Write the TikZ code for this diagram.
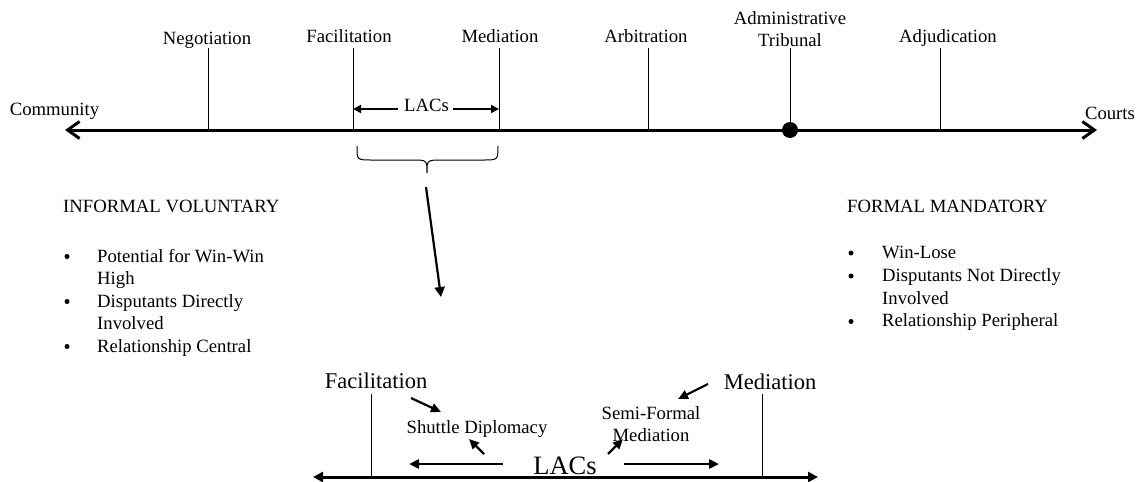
\documentclass[tikz,border=0pt]{standalone}
\usepackage{fontspec}
\setmainfont{Liberation Serif}
\usetikzlibrary{arrows.meta}
\begin{document}
\begin{tikzpicture}[x=1pt,y=-1pt,
  lbl/.style={inner sep=0pt, anchor=base, font=\fontsize{18.7}{22.5}\selectfont},
  lblw/.style={lbl, anchor=base west},
  big/.style={inner sep=0pt, anchor=base, font=\fontsize{22.5}{27}\selectfont},
  huge/.style={inner sep=0pt, anchor=base, font=\fontsize{26.5}{30}\selectfont},
  axisline/.style={line width=3pt},
  tickline/.style={line width=1pt},
  ptr/.style={line width=2.2pt, -{Triangle[length=10pt,width=9pt]}},
  lacptr/.style={line width=1.8pt, -{Triangle[length=8pt,width=8pt]}},
  bul/.style={circle, fill, inner sep=0pt, minimum size=5pt}
]
\useasboundingbox (0,0) rectangle (1144,482);

% ---------- main continuum ----------
\coordinate (cl) at (65,130);
\coordinate (cr) at (1097,130);
\draw[axisline, {Straight Barb[length=12pt,width=17pt]}-{Straight Barb[length=12pt,width=17pt]}] (cl) -- (cr);
\node[lbl] (comm) at (54.5,115) {Community};
\node[lbl] (courts) at (1110,119) {Courts};

% ticks and their labels
\coordinate (tneg) at (208,48);
\coordinate (tfac) at (353,48);
\coordinate (tmed) at (499,48);
\coordinate (tarb) at (648,48);
\coordinate (ttri) at (790,48);
\coordinate (tadj) at (940,48);
\foreach \t in {tneg,tfac,tmed,tarb,ttri,tadj}
  \draw[tickline] (\t) -- (\t |- cl);
\node[circle, fill, inner sep=0pt, minimum size=16pt] (trib) at (ttri |- cl) {};

\node[lbl] (negl) at (207,44) {Negotiation};
\node[lbl] (facl) at (349,42) {Facilitation};
\node[lbl] (medl) at (500,42) {Mediation};
\node[lbl] (arbl) at (646,42) {Arbitration};
\node[lbl] (adml) at (790,24.3) {Administrative};
\node[lbl] (tril) at (790,46.7) {Tribunal};
\node[lbl] (adjl) at (948,42) {Adjudication};

% LACs span between facilitation and mediation
\node[lbl] (lacs) at (426.5,111) {LACs};
\coordinate (lacsl) at (398,109);
\coordinate (lacsr) at (453,109);
\draw[lacptr] (lacsl) -- (tfac |- lacsl);
\draw[lacptr] (lacsr) -- (tmed |- lacsr);

% brace under the LACs span
\draw[line width=1pt]
  (357,146) .. controls (357,160) .. (372,160) -- (412,160)
  .. controls (427,160) .. (427,173)
  .. controls (427,160) .. (442,160) -- (483,160)
  .. controls (498,160) .. (498,146);

\coordinate (zoomfrom) at (426,187);
\coordinate (zoomto) at (441,297);
\draw[line width=2.2pt, -{Triangle[length=10pt,width=10pt]}] (zoomfrom) -- (zoomto);

% ---------- informal side ----------
\node[lblw] (inf) at (63,212) {INFORMAL VOLUNTARY};
\node[lblw] (i1) at (97,262) {Potential for Win-Win};
\node[lblw] (i1b) at (97,284.5) {High};
\node[lblw] (i2) at (97,307) {Disputants Directly};
\node[lblw] (i2b) at (97,329.5) {Involved};
\node[lblw] (i3) at (97,352) {Relationship Central};
\node[bul] (bi1) at (67,256.5) {};
\node[bul] (bi2) at (67,301.5) {};
\node[bul] (bi3) at (67,346.5) {};

% ---------- formal side ----------
\node[lblw] (form) at (847,212) {FORMAL MANDATORY};
\node[lblw] (f1) at (882,258) {Win-Lose};
\node[lblw] (f2) at (882,281) {Disputants Not Directly};
\node[lblw] (f2b) at (882,304) {Involved};
\node[lblw] (f3) at (882,326.5) {Relationship Peripheral};
\node[bul] (bf1) at (851,253) {};
\node[bul] (bf2) at (851,276) {};
\node[bul] (bf3) at (851,321.5) {};

% ---------- detail of the LACs span ----------
\coordinate (dl) at (313,477);
\coordinate (dr) at (818,477);
\draw[axisline, {Triangle[length=10pt,width=10pt]}-{Triangle[length=10pt,width=10pt]}] (dl) -- (dr);
\coordinate (dfac) at (371,394);
\coordinate (dmed) at (762,394);
\draw[tickline] (dfac) -- (dfac |- dl);
\draw[tickline] (dmed) -- (dmed |- dl);

\node[big] (dfacl) at (376,388) {Facilitation};
\node[big] (dmedl) at (770,389) {Mediation};
\node[huge] (dlacs) at (565,474) {LACs};
\node[lbl] (shut) at (477,433) {Shuttle Diplomacy};
\node[lbl] (semi) at (651,419) {Semi-Formal};
\node[lbl] (semib) at (651,441) {Mediation};

\coordinate (a1s) at (411,398);  \coordinate (a1e) at (441,412);
\coordinate (a2s) at (484,454);  \coordinate (a2e) at (469,439);
\coordinate (a3s) at (503,464);  \coordinate (a3e) at (409,464);
\coordinate (a4s) at (624,464);  \coordinate (a4e) at (719,464);
\coordinate (a5s) at (708,384);  \coordinate (a5e) at (678,399);
\coordinate (a6s) at (608,454);  \coordinate (a6e) at (623,439);
\draw[ptr] (a1s) -- (a1e);
\draw[ptr] (a2s) -- (a2e);
\draw[ptr, line width=2.5pt] (a3s) -- (a3e);
\draw[ptr, line width=2.5pt] (a4s) -- (a4e);
\draw[ptr] (a5s) -- (a5e);
\draw[ptr] (a6s) -- (a6e);
\end{tikzpicture}
\end{document}
